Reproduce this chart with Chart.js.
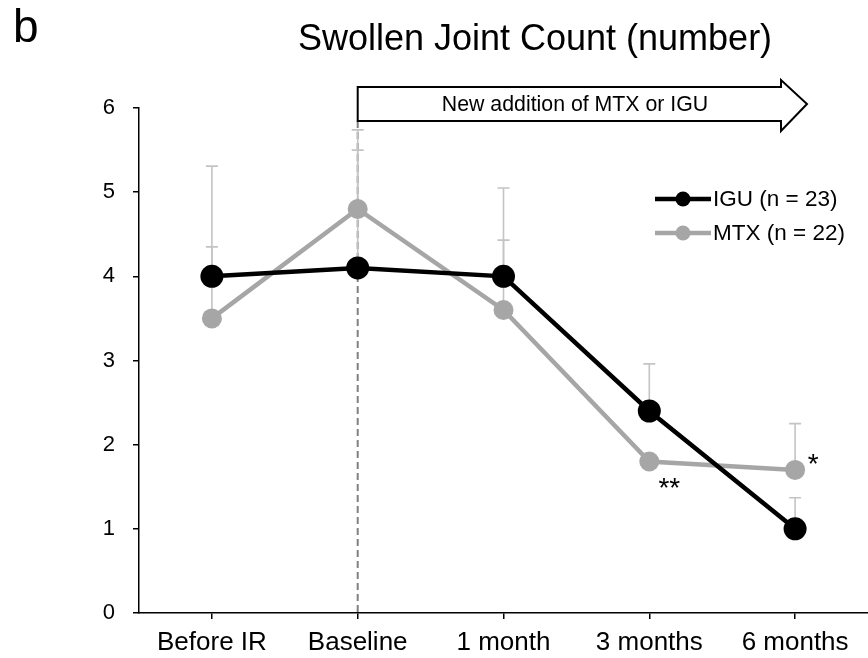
<!DOCTYPE html>
<html>
<head>
<meta charset="utf-8">
<script src="https://cdn.jsdelivr.net/npm/chart.js@4"></script>
<style>
  html, body { margin: 0; padding: 0; background: #fff; }
  #wrap { width: 868px; height: 658px; position: relative; }
</style>
</head>
<body>
<div id="wrap"><canvas id="chart"></canvas></div>
<script>
// data
const categories = ['Before IR', 'Baseline', '1 month', '3 months', '6 months'];
const iguMean = [4.0, 4.1, 4.0, 2.4, 1.0];
const mtxMean = [3.5, 4.8, 3.6, 1.8, 1.7];
// upper end of the SD bars (only the upper half is drawn)
const iguUpper = [4.35, 5.5, 4.43, 2.96, 1.37];
const mtxUpper = [5.31, 5.74, 5.05, null, 2.25];
const yTicks = [0, 1, 2, 3, 4, 5, 6];

const FONT = '"Liberation Sans", Arial, sans-serif';
const BLACK = '#000000';
const GREY = '#a6a6a6';
const BAR = '#c4c4c4';

const extras = {
    id: 'extras',
    beforeDatasetsDraw(chart) {
        const ctx = chart.ctx;
        const x = chart.scales.x, y = chart.scales.y;
        ctx.save();
        // dashed line at baseline
        const bx = x.getPixelForValue(1);
        ctx.strokeStyle = '#808080';
        ctx.lineWidth = 2;
        ctx.setLineDash([7, 4]);
        ctx.beginPath();
        ctx.moveTo(bx, 121);
        ctx.lineTo(bx, chart.chartArea.bottom);
        ctx.stroke();
        ctx.setLineDash([]);

        // error bars
        ctx.strokeStyle = BAR;
        ctx.lineWidth = 1.6;
        const bars = [[iguMean, iguUpper], [mtxMean, mtxUpper]];
        bars.forEach(([mean, upper]) => {
            mean.forEach((m, i) => {
                if (upper[i] == null) return;
                const px = x.getPixelForValue(i);
                const y0 = y.getPixelForValue(m);
                const y1 = y.getPixelForValue(upper[i]);
                ctx.beginPath();
                ctx.moveTo(px, y0);
                ctx.lineTo(px, y1);
                ctx.moveTo(px - 6, y1);
                ctx.lineTo(px + 6, y1);
                ctx.stroke();
            });
        });
        ctx.restore();
    },
    afterDraw(chart) {
        const ctx = chart.ctx;
        const x = chart.scales.x, y = chart.scales.y;
        ctx.save();

        // panel letter and title
        ctx.fillStyle = BLACK;
        ctx.font = '46px ' + FONT;
        ctx.textBaseline = 'alphabetic';
        ctx.textAlign = 'left';
        ctx.fillText('b', 13, 42);
        ctx.font = '36px ' + FONT;
        ctx.textAlign = 'center';
        ctx.fillText('Swollen Joint Count (number)', 535, 50);

        // arrow annotation
        const ax = x.getPixelForValue(1);
        ctx.beginPath();
        ctx.moveTo(ax, 87);
        ctx.lineTo(781, 87);
        ctx.lineTo(781, 80);
        ctx.lineTo(807, 104);
        ctx.lineTo(781, 131);
        ctx.lineTo(781, 121);
        ctx.lineTo(ax, 121);
        ctx.closePath();
        ctx.fillStyle = '#fff';
        ctx.fill();
        ctx.strokeStyle = BLACK;
        ctx.lineWidth = 2;
        ctx.stroke();
        ctx.fillStyle = BLACK;
        ctx.font = '21.3px ' + FONT;
        ctx.textAlign = 'center';
        ctx.textBaseline = 'middle';
        ctx.fillText('New addition of MTX or IGU', 575, 105);

        // significance marks
        ctx.font = '28px ' + FONT;
        ctx.textBaseline = 'alphabetic';
        ctx.fillText('**', x.getPixelForValue(3) + 20, y.getPixelForValue(mtxMean[3]) + 35);
        ctx.fillText('*', x.getPixelForValue(4) + 18, y.getPixelForValue(mtxMean[4]) + 3);

        // legend
        ctx.textBaseline = 'middle';
        const items = [['IGU (n = 23)', BLACK, 199], ['MTX (n = 22)', GREY, 233]];
        items.forEach(([label, col, ly]) => {
            ctx.strokeStyle = col;
            ctx.lineWidth = 4.5;
            ctx.beginPath();
            ctx.moveTo(655, ly);
            ctx.lineTo(711, ly);
            ctx.stroke();
            ctx.fillStyle = col;
            ctx.beginPath();
            ctx.arc(683, ly, 7.5, 0, Math.PI * 2);
            ctx.fill();
            ctx.fillStyle = BLACK;
            ctx.font = '22.5px ' + FONT;
            ctx.textAlign = 'left';
            ctx.fillText(label, 713, ly + 1);
        });
        ctx.restore();
    }
};

new Chart(document.getElementById('chart'), {
    type: 'line',
    data: {
        labels: categories,
        datasets: [
            {
                label: 'MTX (n = 22)',
                data: mtxMean,
                borderColor: GREY,
                backgroundColor: GREY,
                borderWidth: 4.5,
                pointRadius: 10,
                pointBorderWidth: 0,
                tension: 0,
                order: 2
            },
            {
                label: 'IGU (n = 23)',
                data: iguMean,
                borderColor: BLACK,
                backgroundColor: BLACK,
                borderWidth: 4.5,
                pointRadius: 11.5,
                pointBorderWidth: 0,
                tension: 0,
                order: 1
            }
        ]
    },
    options: {
        responsive: true,
        maintainAspectRatio: false,
        animation: false,
        events: [],
        layout: { autoPadding: false, padding: { top: 108, left: 0, right: 0, bottom: 0 } },
        plugins: {
            legend: { display: false },
            title: { display: false },
            tooltip: { enabled: false }
        },
        scales: {
            x: {
                offset: true,
                grid: { offset: false, drawOnChartArea: false, drawTicks: true, tickLength: 6, color: BLACK, lineWidth: 1.5 },
                border: { display: true, color: BLACK, width: 1.5 },
                ticks: { color: BLACK, font: { family: FONT, size: 26 }, padding: 8, maxRotation: 0, autoSkip: false },
                afterFit(scale) {
                    scale.height = 45;
                    scale.paddingLeft = 0;
                    scale.paddingRight = 0;
                }
            },
            y: {
                min: 0,
                max: 6,
                afterBuildTicks(scale) { scale.ticks = yTicks.map(v => ({ value: v })); },
                grid: { drawOnChartArea: false, drawTicks: true, tickLength: 6, color: BLACK, lineWidth: 1.5 },
                border: { display: true, color: BLACK, width: 1.5 },
                ticks: { color: BLACK, font: { family: FONT, size: 22 }, padding: 18 },
                afterFit(scale) { scale.width = 139; }
            }
        }
    },
    plugins: [extras]
});
</script>
</body>
</html>
